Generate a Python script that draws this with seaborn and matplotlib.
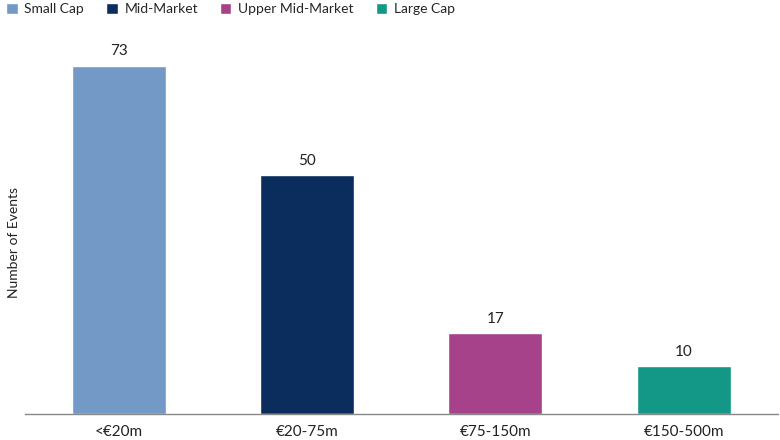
import matplotlib
matplotlib.use("Agg")
import matplotlib.pyplot as plt
import seaborn as sns
import pandas as pd

categories = ["<€20m", "€20-75m", "€75-150m", "€150-500m"]
segments = ["Small Cap", "Mid-Market", "Upper Mid-Market", "Large Cap"]
events = [73, 50, 17, 10]
colors = ["#7399C6", "#0B2D5E", "#A6428A", "#139887"]

df = pd.DataFrame({"size": categories, "segment": segments, "events": events})

sns.set_style("white")
plt.rcParams["font.family"] = ["Lato", "DejaVu Sans"]

fig = plt.figure(figsize=(7.8, 4.4), dpi=100)
ax = fig.add_axes([0.032, 0.059, 0.965, 0.868])
sns.barplot(data=df, x="size", y="events", hue="segment", palette=colors,
            dodge=False, width=0.5, saturation=1, ax=ax)

for p, v in zip(ax.patches, events):
    ax.text(p.get_x() + p.get_width() / 2, v + 1.5, str(v),
            ha="center", va="bottom", fontsize=11, color="#222222")

ax.set_xlim(-0.5, 3.5)
ax.set_ylim(0, 80)
ax.set_yticks([])
ax.set_xlabel("")
ax.set_ylabel("Number of Events", fontsize=10, color="#222222")
ax.yaxis.set_label_coords(-0.006, 0.45)
ax.tick_params(axis="x", length=0, labelsize=11, colors="#222222", pad=8)
for s in ["top", "right", "left"]:
    ax.spines[s].set_visible(False)
ax.spines["bottom"].set_color("#888888")
ax.spines["bottom"].set_linewidth(1)

handles, labels = ax.get_legend_handles_labels()
ax.legend(handles, labels, loc="upper left", bbox_to_anchor=(-0.032, 1.09),
          ncol=4, frameon=False, fontsize=10, handlelength=0.8, handleheight=0.8,
          handletextpad=0.5, columnspacing=1.6, borderaxespad=0)

fig.savefig("out.png", dpi=100)
